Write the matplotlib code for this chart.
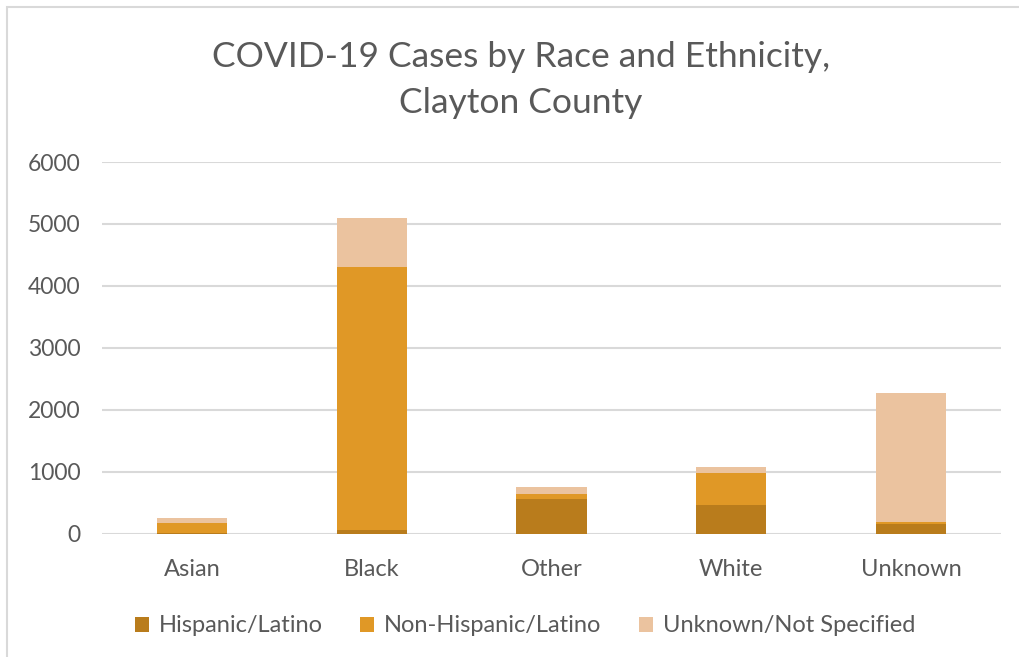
import matplotlib.pyplot as plt
from matplotlib.patches import Rectangle

races = ['Asian', 'Black', 'Other', 'White', 'Unknown']
hispanic = [3, 60, 550, 465, 150]
non_hispanic = [165, 4240, 80, 520, 40]
unknown_eth = [85, 790, 115, 85, 2075]
series_names = ['Hispanic/Latino', 'Non-Hispanic/Latino', 'Unknown/Not Specified']
colors = ['#B97C1C', '#E09826', '#EBC39F']
y_ticks = [0, 1000, 2000, 3000, 4000, 5000, 6000]

TEXT = '#595959'
GRID = '#D9D9D9'
W, H = 1019, 657

plt.rcParams['font.family'] = ['Lato', 'DejaVu Sans']

fig = plt.figure(figsize=(W / 100, H / 100), dpi=100)
fig.patches.append(Rectangle((7 / W, -0.1), 1.2, (H - 7) / H + 0.1,
                             transform=fig.transFigure, fill=False,
                             edgecolor=GRID, lw=1.5))

ax = fig.add_axes([102 / W, (H - 533.5) / H, (1001 - 102) / W, (533.5 - 162) / H])

x = range(len(races))
bottom = [0] * len(races)
for vals, name, c in zip([hispanic, non_hispanic, unknown_eth], series_names, colors):
    ax.bar(x, vals, width=0.39, bottom=bottom, color=c, label=name, zorder=3)
    bottom = [b + v for b, v in zip(bottom, vals)]

ax.set_xlim(-0.5, len(races) - 0.5)
ax.set_ylim(0, 6000)
ax.set_yticks(y_ticks)
ax.set_xticks(list(x))
ax.set_xticklabels(races)
ax.tick_params(axis='both', length=0, colors=TEXT)
ax.tick_params(axis='y', pad=15.5, labelsize=16.5)
ax.tick_params(axis='x', pad=18, labelsize=17)
ax.grid(axis='y', color=GRID, lw=1.5, zorder=0)
for s in ax.spines.values():
    s.set_visible(False)

fig.text(521 / W, 1 - 57 / H, 'COVID-19 Cases by Race and Ethnicity,',
         ha='center', va='center', fontsize=25.5, color=TEXT)
fig.text(521 / W, 1 - 103 / H, 'Clayton County',
         ha='center', va='center', fontsize=25.5, color=TEXT)

fig.legend(loc='center', bbox_to_anchor=(525 / W, 1 - 626 / H), ncol=3,
           frameon=False, fontsize=17, labelcolor=TEXT, handlelength=0.6,
           handleheight=0.6, handletextpad=0.4, columnspacing=1.6)

fig.savefig('out.png', dpi=100, facecolor='white')
